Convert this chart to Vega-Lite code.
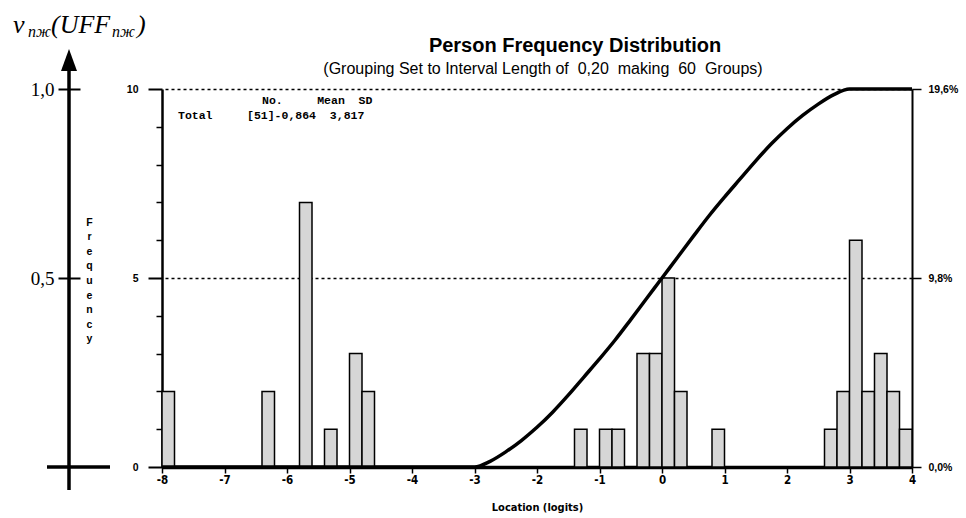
{
  "$schema": "https://vega.github.io/schema/vega-lite/v6.json",
  "width": 750,
  "height": 378,
  "autosize": "none",
  "padding": {"left": 162, "top": 89, "right": 54, "bottom": 51},
  "background": "white",
  "config": {
    "view": {"stroke": null},
    "locale": {"number": {"decimal": ",", "thousands": ".", "grouping": [3], "currency": ["", " €"], "minus": "-"}},
    "axis": {"domainColor": "black", "tickColor": "black", "labelColor": "black", "titleColor": "black", "zindex": 1}
  },
  "datasets": {
    "groups": [
      {"from": -8.0, "to": -7.8, "count": 2},
      {"from": -6.4, "to": -6.2, "count": 2},
      {"from": -5.8, "to": -5.6, "count": 7},
      {"from": -5.4, "to": -5.2, "count": 1},
      {"from": -5.0, "to": -4.8, "count": 3},
      {"from": -4.8, "to": -4.6, "count": 2},
      {"from": -1.4, "to": -1.2, "count": 1},
      {"from": -1.0, "to": -0.8, "count": 1},
      {"from": -0.8, "to": -0.6, "count": 1},
      {"from": -0.4, "to": -0.2, "count": 3},
      {"from": -0.2, "to": 0.0, "count": 3},
      {"from": 0.0, "to": 0.2, "count": 5},
      {"from": 0.2, "to": 0.4, "count": 2},
      {"from": 0.8, "to": 1.0, "count": 1},
      {"from": 2.6, "to": 2.8, "count": 1},
      {"from": 2.8, "to": 3.0, "count": 2},
      {"from": 3.0, "to": 3.2, "count": 6},
      {"from": 3.2, "to": 3.4, "count": 2},
      {"from": 3.4, "to": 3.6, "count": 3},
      {"from": 3.6, "to": 3.8, "count": 2},
      {"from": 3.8, "to": 4.0, "count": 1}
    ],
    "curve": [
      {"logit": -8, "nu": 0},
      {"logit": -3, "nu": 0},
      {"logit": -2.75, "nu": 0.015},
      {"logit": -2.5, "nu": 0.04},
      {"logit": -2.25, "nu": 0.07},
      {"logit": -2, "nu": 0.105},
      {"logit": -1.75, "nu": 0.145},
      {"logit": -1.5, "nu": 0.19},
      {"logit": -1.25, "nu": 0.238},
      {"logit": -1, "nu": 0.286},
      {"logit": -0.75, "nu": 0.336},
      {"logit": -0.5, "nu": 0.39},
      {"logit": -0.25, "nu": 0.445},
      {"logit": 0, "nu": 0.5},
      {"logit": 0.25, "nu": 0.555},
      {"logit": 0.5, "nu": 0.61},
      {"logit": 0.75, "nu": 0.664},
      {"logit": 1, "nu": 0.714},
      {"logit": 1.25, "nu": 0.762},
      {"logit": 1.5, "nu": 0.81},
      {"logit": 1.75, "nu": 0.855},
      {"logit": 2, "nu": 0.895},
      {"logit": 2.25, "nu": 0.93},
      {"logit": 2.5, "nu": 0.96},
      {"logit": 2.75, "nu": 0.985},
      {"logit": 3, "nu": 1},
      {"logit": 4, "nu": 1}
    ]
  },
  "layer": [
    {
      "data": {"name": "groups"},
      "mark": {"type": "bar", "fill": "#d6d6d6", "stroke": "black", "strokeWidth": 1.5, "orient": "vertical"},
      "encoding": {
        "x": {"field": "from", "type": "quantitative", "scale": {"domain": [-8, 4], "nice": false, "zero": false, "padding": 0},
          "axis": {"values": [-8, -7, -6, -5, -4, -3, -2, -1, 0, 1, 2, 3, 4], "format": "d", "tickSize": 6, "tickWidth": 1.5, "domainWidth": 3.5, "labelFont": "Liberation Sans Narrow, Arial Narrow, DejaVu Sans Condensed, sans-serif", "labelFontWeight": "bold", "labelFontSize": 11.5, "labelPadding": 1, "labelFlush": false, "grid": false, "title": "Location (logits)", "titleFont": "Liberation Sans Narrow, Arial Narrow, DejaVu Sans Condensed, sans-serif", "titleFontWeight": "bold", "titleFontSize": 11, "titlePadding": 16}},
        "x2": {"field": "to"},
        "y": {"field": "count", "type": "quantitative", "scale": {"domain": [0, 10], "nice": false},
          "axis": {"orient": "left", "values": [0, 5, 10], "tickSize": 14, "tickWidth": 2, "domainWidth": 2.5, "labelFont": "Liberation Sans", "labelFontWeight": "bold", "labelFontSize": 10.5, "labelPadding": 10, "grid": false,
            "title": ["F", "r", "e", "q", "u", "e", "n", "c", "y"], "titleAngle": 0, "titleX": -73, "titleY": 128, "titleAlign": "center", "titleBaseline": "top", "titleFont": "Liberation Sans", "titleFontWeight": "bold", "titleFontSize": 10.5, "titleLineHeight": 14.6}},
        "y2": {"datum": 0}
      }
    },
    {
      "data": {"values": [{}]},
      "mark": {"type": "text", "align": "left", "baseline": "top", "font": "Liberation Mono", "fontSize": 11.5, "fontWeight": "bold", "color": "black",
        "text": "No.\u00a0\u00a0\u00a0\u00a0\u00a0Mean\u00a0\u00a0SD"},
      "encoding": {
        "x": {"datum": -6.4, "type": "quantitative", "scale": {"domain": [-8, 4]}},
        "y": {"datum": 9.84, "type": "quantitative", "scale": {"domain": [0, 10]}, "axis": null}
      }
    },
    {
      "data": {"values": [{}]},
      "mark": {"type": "text", "align": "left", "baseline": "top", "font": "Liberation Mono", "fontSize": 11.5, "fontWeight": "bold", "color": "black",
        "text": "Total\u00a0\u00a0\u00a0\u00a0\u00a0[51]-0,864\u00a0\u00a03,817"},
      "encoding": {
        "x": {"datum": -7.744, "type": "quantitative", "scale": {"domain": [-8, 4]}},
        "y": {"datum": 9.44, "type": "quantitative", "scale": {"domain": [0, 10]}, "axis": null}
      }
    },
    {
      "data": {"values": [{}]},
      "mark": {"type": "text", "align": "center", "baseline": "alphabetic", "font": "Liberation Sans", "fontSize": 20, "fontWeight": "bold", "color": "black", "text": "Person Frequency Distribution"},
      "encoding": {
        "x": {"datum": -1.392, "type": "quantitative", "scale": {"domain": [-8, 4]}},
        "y": {"datum": 10.98, "type": "quantitative", "scale": {"domain": [0, 10]}, "axis": null}
      }
    },
    {
      "data": {"values": [{}]},
      "mark": {"type": "text", "align": "center", "baseline": "alphabetic", "font": "Liberation Sans", "fontSize": 16, "color": "black", "text": "(Grouping Set to Interval Length of\u00a0 0,20\u00a0 making\u00a0 60\u00a0 Groups)"},
      "encoding": {
        "x": {"datum": -1.904, "type": "quantitative", "scale": {"domain": [-8, 4]}},
        "y": {"datum": 10.397, "type": "quantitative", "scale": {"domain": [0, 10]}, "axis": null}
      }
    },
    {
      "data": {"values": [{}]},
      "mark": {"type": "text", "align": "left", "baseline": "alphabetic", "font": "Liberation Serif", "fontSize": 26, "fontStyle": "italic", "color": "black", "text": "ν"},
      "encoding": {
        "x": {"datum": -10.384, "type": "quantitative", "scale": {"domain": [-8, 4]}},
        "y": {"datum": 11.48, "type": "quantitative", "scale": {"domain": [0, 10]}, "axis": null}
      }
    },
    {
      "data": {"values": [{}]},
      "mark": {"type": "text", "align": "left", "baseline": "alphabetic", "font": "Liberation Serif", "fontSize": 16, "fontStyle": "italic", "color": "black", "text": "пж"},
      "encoding": {
        "x": {"datum": -10.144, "type": "quantitative", "scale": {"domain": [-8, 4]}},
        "y": {"datum": 11.376, "type": "quantitative", "scale": {"domain": [0, 10]}, "axis": null}
      }
    },
    {
      "data": {"values": [{}]},
      "mark": {"type": "text", "align": "left", "baseline": "alphabetic", "font": "Liberation Serif", "fontSize": 26, "fontStyle": "italic", "color": "black", "text": "(UFF"},
      "encoding": {
        "x": {"datum": -9.776, "type": "quantitative", "scale": {"domain": [-8, 4]}},
        "y": {"datum": 11.48, "type": "quantitative", "scale": {"domain": [0, 10]}, "axis": null}
      }
    },
    {
      "data": {"values": [{}]},
      "mark": {"type": "text", "align": "left", "baseline": "alphabetic", "font": "Liberation Serif", "fontSize": 16, "fontStyle": "italic", "color": "black", "text": "пж"},
      "encoding": {
        "x": {"datum": -8.8, "type": "quantitative", "scale": {"domain": [-8, 4]}},
        "y": {"datum": 11.376, "type": "quantitative", "scale": {"domain": [0, 10]}, "axis": null}
      }
    },
    {
      "data": {"values": [{}]},
      "mark": {"type": "text", "align": "left", "baseline": "alphabetic", "font": "Liberation Serif", "fontSize": 26, "fontStyle": "italic", "color": "black", "text": ")"},
      "encoding": {
        "x": {"datum": -8.4, "type": "quantitative", "scale": {"domain": [-8, 4]}},
        "y": {"datum": 11.48, "type": "quantitative", "scale": {"domain": [0, 10]}, "axis": null}
      }
    },
    {
      "data": {"name": "curve"},
      "mark": {"type": "line", "color": "black", "strokeWidth": 3.5, "interpolate": "monotone"},
      "encoding": {
        "x": {"field": "logit", "type": "quantitative", "scale": {"domain": [-8, 4]}},
        "y": {"field": "nu", "type": "quantitative", "scale": {"domain": [0, 1], "nice": false},
          "axis": {"orient": "left", "offset": 82, "values": [0.5, 1], "format": ".1f", "tickSize": 22, "tickWidth": 2, "domain": false, "grid": false, "labelFont": "Liberation Serif", "labelFontSize": 19, "labelPadding": 4, "title": null}}
      }
    },
    {
      "data": {"values": [{}]},
      "mark": {"type": "rule", "color": "black", "strokeWidth": 3.5},
      "encoding": {
        "x": {"datum": -9.488, "type": "quantitative", "scale": {"domain": [-8, 4]}},
        "y": {"datum": -0.061, "type": "quantitative", "scale": {"domain": [0, 1], "nice": false},
          "axis": {"orient": "left", "offset": 0, "values": [0.1, 0.2, 0.3, 0.4, 0.6, 0.7, 0.8, 0.9], "tickSize": 6, "tickWidth": 1.5, "labels": false, "domain": false, "grid": false, "title": null}},
        "y2": {"datum": 1.074}
      }
    },
    {
      "data": {"values": [{}]},
      "mark": {"type": "point", "filled": true, "color": "black", "opacity": 1, "strokeWidth": 0, "size": 484, "shape": "M0,-1L0.727,1L-0.727,1Z"},
      "encoding": {
        "x": {"datum": -9.488, "type": "quantitative", "scale": {"domain": [-8, 4]}},
        "y": {"datum": 1.077, "type": "quantitative", "scale": {"domain": [0, 1]}, "axis": null}
      }
    },
    {
      "data": {"values": [{}]},
      "mark": {"type": "rule", "color": "black", "strokeWidth": 3.5},
      "encoding": {
        "x": {"datum": -9.84, "type": "quantitative", "scale": {"domain": [-8, 4]}},
        "x2": {"datum": -8.832},
        "y": {"datum": 0, "type": "quantitative", "scale": {"domain": [0, 1]}, "axis": null}
      }
    },
    {
      "data": {"values": [{}]},
      "mark": {"type": "rule", "strokeOpacity": 0},
      "encoding": {
        "y": {"datum": 0, "type": "quantitative", "scale": {"domain": [0, 0.196], "nice": false},
          "axis": {"orient": "right", "values": [0, 0.098, 0.196], "format": ".1%", "tickSize": 9, "tickWidth": 1.5, "domainWidth": 2, "labelPadding": 7, "labelFont": "Liberation Sans", "labelFontWeight": "bold", "labelFontSize": 10.5, "grid": true, "gridDash": [3, 3], "gridColor": "black", "gridWidth": 1.5, "gridOpacity": {"condition": {"test": "datum.value === 0", "value": 0}, "value": 1}, "title": null}}
      }
    }
  ],
  "resolve": {"scale": {"y": "independent"}}
}
